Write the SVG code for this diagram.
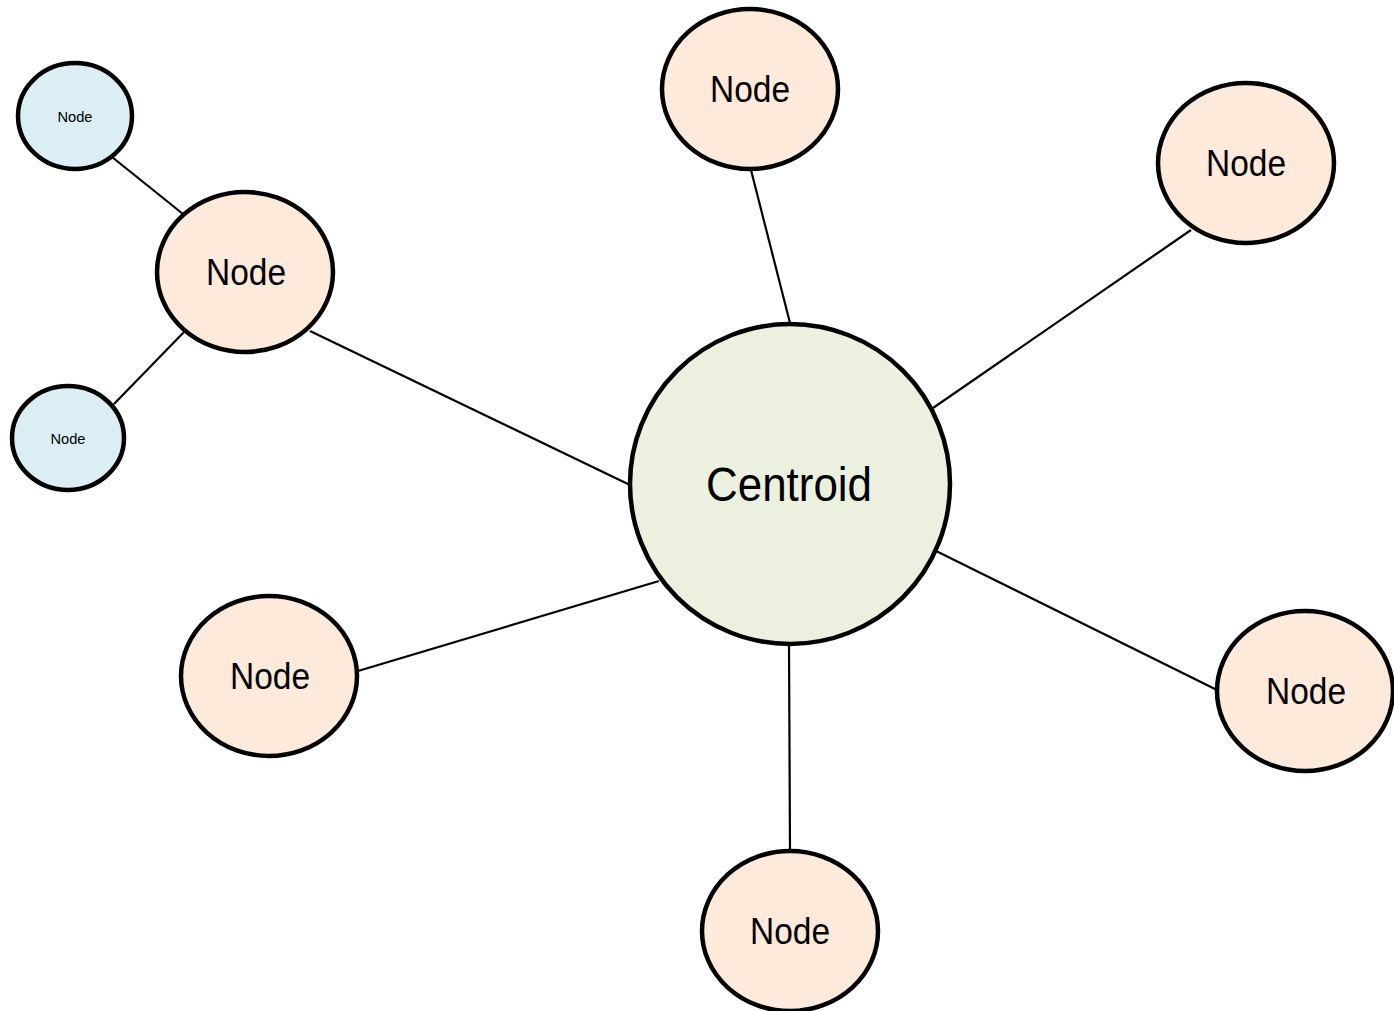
<svg xmlns="http://www.w3.org/2000/svg" width="1394" height="1011" viewBox="0 0 1394 1011">
<style>
.n{stroke:#000;stroke-width:4.5}
.p{fill:#FDEADA}
.b{fill:#DBEEF4}
.g{fill:#EBF1DE}
.c line{stroke:#000;stroke-width:2.2}
text{font-family:"Liberation Sans Narrow","Liberation Sans",Arial,sans-serif;text-anchor:middle;dominant-baseline:central;fill:#000}
.t{font-size:37px}
.s{font-size:15px}
</style>
<rect width="1394" height="1011" fill="#fff"/>
<g class="c" id="connectors">
<line x1="751" y1="170" x2="790" y2="323"/>
<line x1="1191" y1="230" x2="933" y2="408"/>
<line x1="310" y1="331" x2="630" y2="485"/>
<line x1="358" y1="671" x2="659" y2="581"/>
<line x1="790" y1="850" x2="789" y2="645"/>
<line x1="1217" y1="690" x2="930" y2="548"/>
<line x1="112" y1="157" x2="183" y2="214"/>
<line x1="114" y1="404" x2="184" y2="332"/>
</g>
<g id="centroid"><circle class="n g" cx="790" cy="484" r="160"/><text x="789" y="484" style="font-size:48px" textLength="166" lengthAdjust="spacingAndGlyphs">Centroid</text></g>
<g id="node-top"><ellipse class="n p" cx="750" cy="89" rx="88" ry="80"/><text class="t" x="750" y="89" textLength="80" lengthAdjust="spacingAndGlyphs">Node</text></g>
<g id="node-topright"><ellipse class="n p" cx="1246" cy="163" rx="88" ry="80"/><text class="t" x="1246" y="163" textLength="80" lengthAdjust="spacingAndGlyphs">Node</text></g>
<g id="node-left"><ellipse class="n p" cx="245" cy="272" rx="88" ry="80"/><text class="t" x="246" y="272" textLength="80" lengthAdjust="spacingAndGlyphs">Node</text></g>
<g id="node-lowerleft"><ellipse class="n p" cx="269" cy="676" rx="88" ry="80"/><text class="t" x="270" y="676" textLength="80" lengthAdjust="spacingAndGlyphs">Node</text></g>
<g id="node-right"><ellipse class="n p" cx="1305" cy="691" rx="88" ry="80"/><text class="t" x="1306" y="691" textLength="80" lengthAdjust="spacingAndGlyphs">Node</text></g>
<g id="node-bottom"><ellipse class="n p" cx="790" cy="931" rx="88" ry="80"/><text class="t" x="790" y="931" textLength="80" lengthAdjust="spacingAndGlyphs">Node</text></g>
<g id="node-small-top"><ellipse class="n b" cx="75" cy="116" rx="57" ry="53"/><text class="s" x="75" y="116" textLength="35" lengthAdjust="spacingAndGlyphs">Node</text></g>
<g id="node-small-bottom"><ellipse class="n b" cx="68" cy="438" rx="56" ry="52"/><text class="s" x="68" y="438" textLength="35" lengthAdjust="spacingAndGlyphs">Node</text></g>
</svg>
